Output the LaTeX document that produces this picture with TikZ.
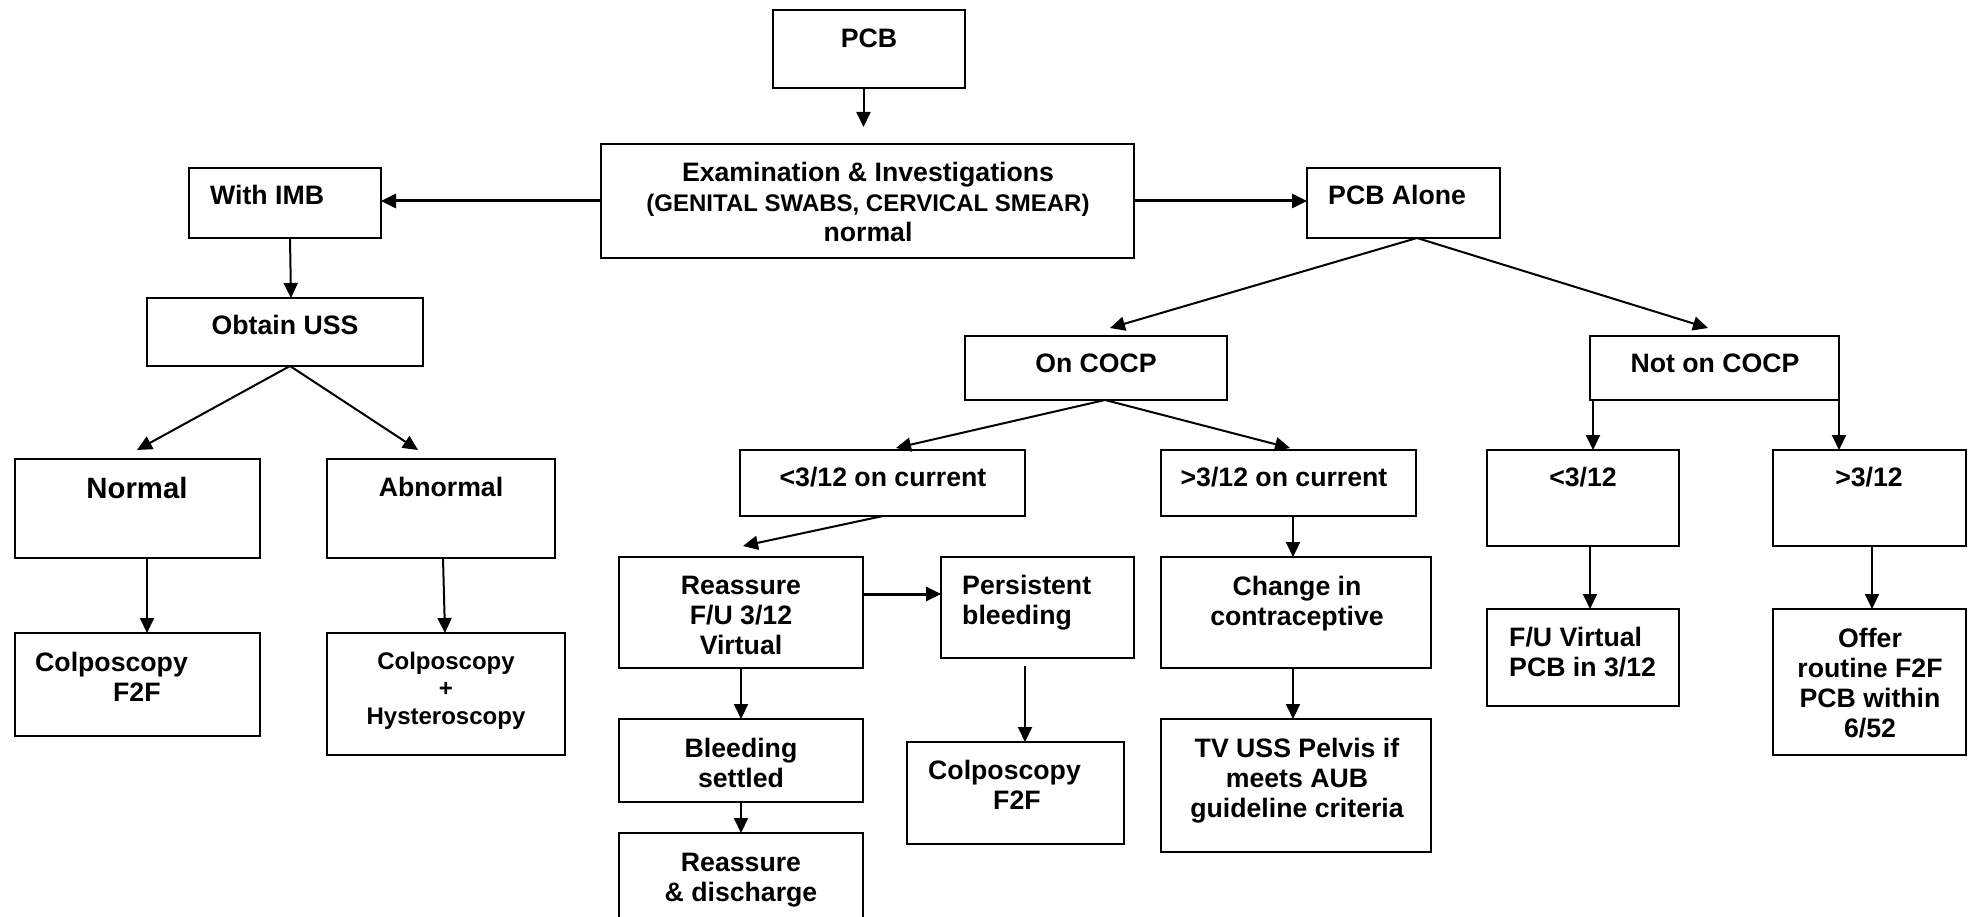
\documentclass[tikz,border=0pt]{standalone}
\usepackage{fontspec}
\setmainfont{Liberation Sans}
\usetikzlibrary{arrows.meta}
\newcommand{\bx}[5]{\node[box, minimum width={(#4-#2)*1pt}, minimum height={(#5-#3)*1pt}] (#1) at ({(#2+#4)/2},{(#3+#5)/2}) {};}
\tikzset{
  box/.style={draw, line width=2pt, inner sep=0pt, outer sep=0pt},
  txt/.style={inner sep=0pt, text depth=0pt, align=center, font=\bfseries\fontsize{26.67}{30}\selectfont},
  smalltxt/.style={txt, font=\bfseries\fontsize{24}{27.5}\selectfont},
  bigtxt/.style={txt, font=\bfseries\fontsize{29.33}{33}\selectfont},
  arr/.style={-{Triangle[length=15pt,width=14pt]}, line width=2pt},
  tarr/.style={arr, line width=3pt}
}
\begin{document}
\begin{tikzpicture}[x=1pt,y=-1pt]
\useasboundingbox (0,0) rectangle (1973,917);
\clip (0,0) rectangle (1973,917);
% boxes
\bx{pcb}{773}{10}{965}{88}
\bx{exam}{601}{144}{1134}{258}
\bx{imb}{189}{168}{381}{238}
\bx{alone}{1307}{168}{1500}{238}
\bx{uss}{147}{298}{423}{366}
\bx{oncocp}{965}{336}{1227}{400}
\bx{notcocp}{1590}{336}{1839}{400}
\bx{normal}{15}{459}{260}{558}
\bx{abnormal}{327}{459}{555}{558}
\bx{colpl}{15}{633}{260}{736}
\bx{colph}{327}{633}{565}{755}
\bx{ltcur}{740}{450}{1025}{516}
\bx{gtcur}{1161}{450}{1416}{516}
\bx{reassure}{619}{557}{863}{668}
\bx{persist}{941}{557}{1134}{658}
\bx{colpm}{907}{742}{1124}{844}
\bx{change}{1161}{557}{1431}{668}
\bx{tvuss}{1161}{719}{1431}{852}
\bx{bleed}{619}{719}{863}{802}
\bx{rdis}{619}{833}{863}{930}
\bx{ltthree}{1487}{450}{1679}{546}
\bx{gtthree}{1773}{450}{1966}{546}
\bx{fuv}{1487}{609}{1679}{706}
\bx{offer}{1773}{609}{1966}{755}
% texts
\node[txt] (tpcb) at (869,38) {PCB};
\node[txt] (texam) at (868,202) {Examination \& Investigations\\{\fontsize{24}{30}\selectfont (GENITAL SWABS, CERVICAL SMEAR)}\\normal};
\node[txt, anchor=west] (timb) at (210,195) {With IMB};
\node[txt] (tuss) at (285,325) {Obtain USS};
\node[txt, anchor=west] (talone) at (1328,195) {PCB Alone};
\node[txt] (toncocp) at (1096,363) {On COCP};
\node[txt] (tnotcocp) at (1715,363) {Not on COCP};
\node[bigtxt] (tnormal) at (137,488) {Normal};
\node[txt] (tabnormal) at (441,487) {Abnormal};
\node[txt, anchor=west, align=left] (tcolpl) at (35,677) {Colposcopy\\\hspace*{78pt}F2F};
\node[smalltxt] (tcolph) at (446,688) {Colposcopy\\+\\Hysteroscopy};
\node[txt] (tltcur) at (883,477) {<3/12 on current};
\node[txt] (tgtcur) at (1284,477) {>3/12 on current};
\node[txt] (treassure) at (741,615.5) {Reassure\\F/U 3/12\\Virtual};
\node[txt, anchor=west, align=left] (tpersist) at (962,600) {Persistent\\bleeding};
\node[txt, anchor=west, align=left] (tcolpm) at (928,785) {Colposcopy\\\hspace*{65pt}F2F};
\node[txt] (tchange) at (1297,600.5) {Change in\\contraceptive};
\node[txt] (ttvuss) at (1297,777.5) {TV USS Pelvis if\\meets AUB\\guideline criteria};
\node[txt] (tbleed) at (741,762.5) {Bleeding\\settled};
\node[txt] (trdis) at (741,877.5) {Reassure\\\& discharge};
\node[txt] (tltthree) at (1583,477) {<3/12};
\node[txt] (tgtthree) at (1869,477) {>3/12};
\node[txt, anchor=west, align=left] (tfuv) at (1509,652) {F/U Virtual\\PCB in 3/12};
\node[txt] (toffer) at (1870,682.5) {Offer\\routine F2F\\PCB within\\6/52};
% connectors
\draw[arr] ([xshift=-5.5pt]pcb.south) -- ([xshift=-4pt,yshift=17pt]exam.north);
\draw[tarr] (exam.west) -- (exam.west -| imb.east);
\draw[tarr] (exam.east) -- (exam.east -| alone.west);
\draw[arr] ([xshift=5pt]imb.south) -- ([xshift=6pt]uss.north);
\draw[arr] ([xshift=5pt]uss.south) -- ([xshift=-0.5pt,yshift=9pt]normal.north);
\draw[arr] ([xshift=5pt]uss.south) -- ([xshift=-23pt,yshift=9pt]abnormal.north);
\draw[arr] ([xshift=9.5pt]normal.south) -- ([xshift=9.5pt]colpl.north);
\draw[arr] ([xshift=2pt]abnormal.south) -- ([xshift=-1pt]colph.north);
\draw[arr] ([xshift=13.5pt]alone.south) -- ([xshift=14pt,yshift=8pt]oncocp.north);
\draw[arr] ([xshift=13.5pt]alone.south) -- ([xshift=-6.5pt,yshift=8pt]notcocp.north);
\draw[arr] ([xshift=9pt]oncocp.south) -- ([xshift=13.5pt,yshift=2pt]ltcur.north);
\draw[arr] ([xshift=9pt]oncocp.south) -- ([xshift=1.5pt,yshift=2pt]gtcur.north);
\draw[arr] ([xshift=0.5pt]ltcur.south) -- ([xshift=2pt,yshift=11pt]reassure.north);
\coordinate (r1) at ([yshift=18.5pt]reassure.east);
\draw[tarr] (r1) -- (r1 -| persist.west);
\draw[arr] ([xshift=-12.5pt,yshift=-8pt]persist.south) -- ([xshift=9.5pt]colpm.north);
\draw[arr] ([xshift=4.5pt]gtcur.south) -- ([xshift=-3pt]change.north);
\draw[arr] ([xshift=-3pt]change.south) -- ([xshift=-3pt]tvuss.north);
\draw[arr] (reassure.south) -- (bleed.north);
\draw[arr] (bleed.south) -- (rdis.north);
\coordinate (n1) at ([xshift=3pt]notcocp.south west);
\draw[arr] (n1) -- (n1 |- ltthree.north);
\draw[arr] (notcocp.south east) -- (notcocp.south east |- gtthree.north);
\draw[arr] ([xshift=7pt]ltthree.south) -- ([xshift=7pt]fuv.north);
\draw[arr] ([xshift=2.5pt]gtthree.south) -- ([xshift=2.5pt]offer.north);
\end{tikzpicture}
\end{document}
